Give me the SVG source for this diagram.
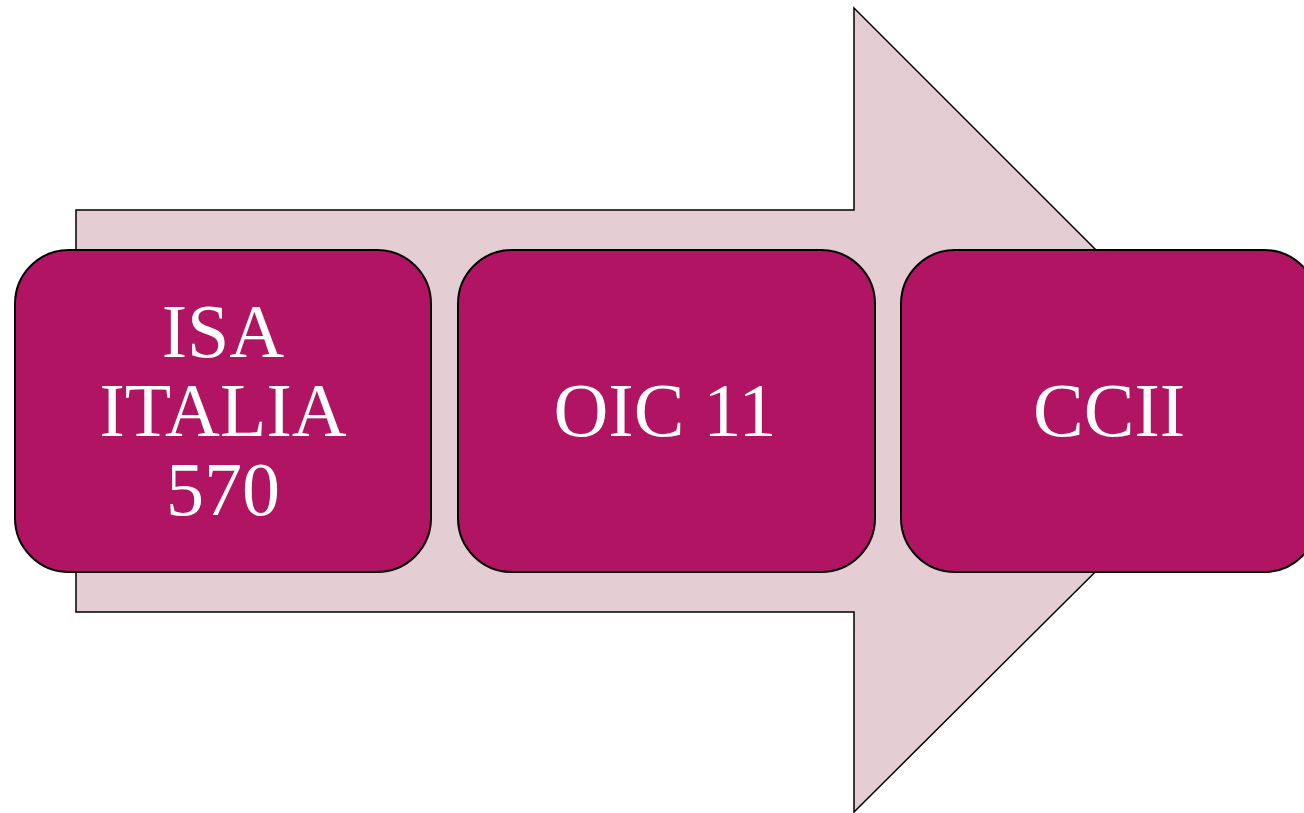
<svg xmlns="http://www.w3.org/2000/svg" width="1304" height="813" viewBox="0 0 1304 813">
<style>
.box{fill:#b01463;stroke:#000;stroke-width:2}
.lbl{font-family:"Liberation Serif","Times New Roman",serif;font-size:76px;fill:#fff;text-anchor:middle}
</style>
<rect width="1304" height="813" fill="#fff"/>
<g id="arrow">
<polygon points="76,210 854,210 854,8 1257,411 854,812 854,612 76,612" fill="#e4cdd3" stroke="#000" stroke-width="1.5"/>
</g>
<g id="connectors"></g>
<g id="node1">
<rect class="box" x="15" y="250" width="416" height="322" rx="54"/>
<text class="lbl" x="223" y="357">ISA</text>
<text class="lbl" x="223" y="436">ITALIA</text>
<text class="lbl" x="223" y="515">570</text>
</g>
<g id="node2">
<rect class="box" x="458" y="250" width="417" height="322" rx="54"/>
<text class="lbl" x="665" y="436">OIC 11</text>
</g>
<g id="node3">
<rect class="box" x="901" y="250" width="417" height="322" rx="54"/>
<text class="lbl" x="1109" y="436">CCII</text>
</g>
</svg>
